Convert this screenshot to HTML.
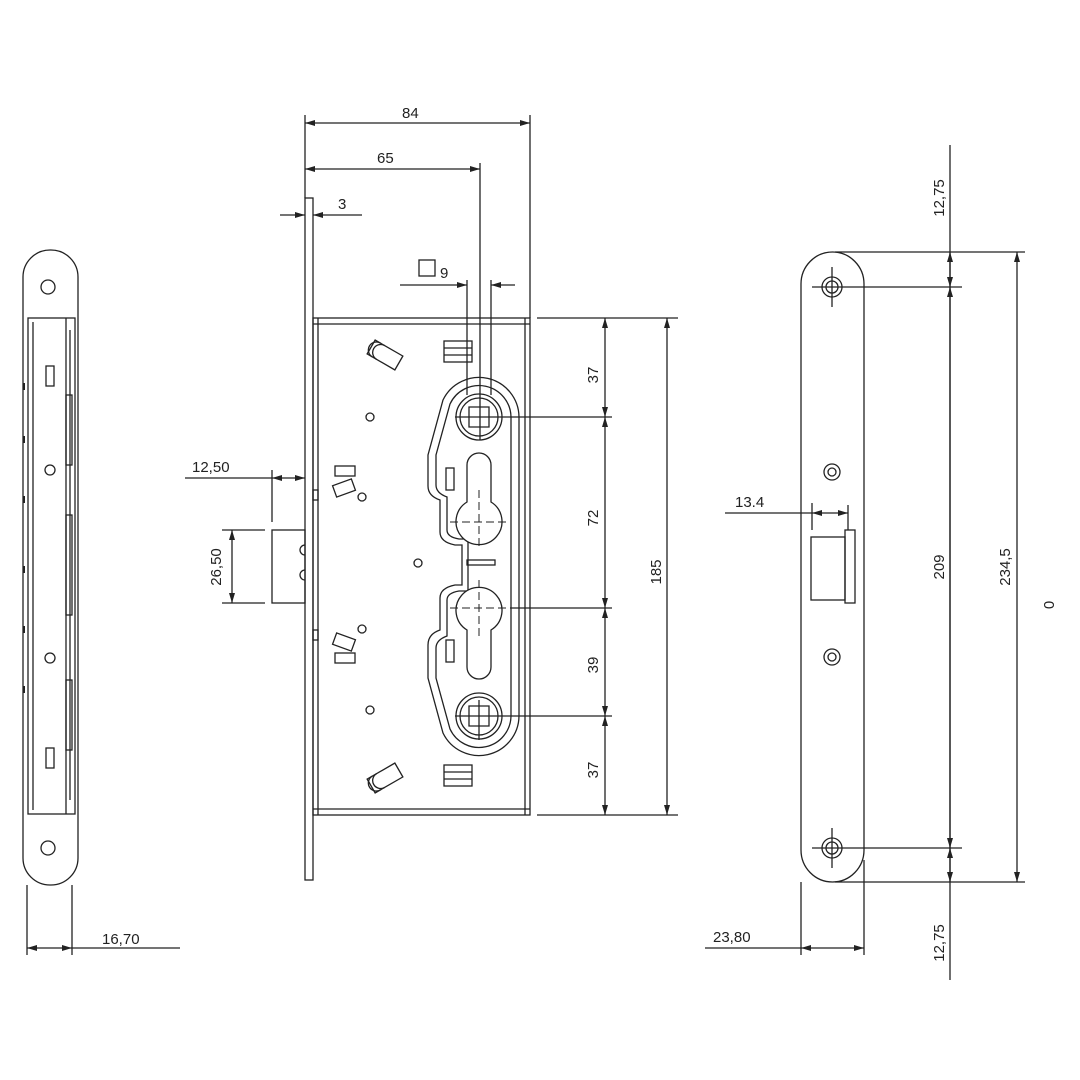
<!DOCTYPE html>
<html><head><style>body{margin:0;background:#fff}svg{display:block}text{font-family:"Liberation Sans",sans-serif;font-size:15px;fill:#222}</style></head><body>
<svg width="1080" height="1080" viewBox="0 0 1080 1080" xmlns="http://www.w3.org/2000/svg">
<defs>
<marker id="a" viewBox="0 0 10 6" refX="10" refY="3" markerWidth="10" markerHeight="6" orient="auto-start-reverse" markerUnits="userSpaceOnUse"><path d="M0,0L10,3L0,6z" fill="#222"/></marker>
</defs>
<g stroke="#222" fill="none" stroke-width="1.3">
<!-- LEFT VIEW -->
<rect x="23" y="250" width="55" height="635" rx="27"/>
<circle cx="48" cy="287" r="7"/><circle cx="48" cy="848" r="7"/>
<rect x="28" y="318" width="47" height="496"/>
<line x1="33" y1="322" x2="33" y2="810"/>
<line x1="66" y1="318" x2="66" y2="814"/>
<line x1="70" y1="330" x2="70" y2="800"/>
<rect x="46" y="366" width="8" height="20"/><rect x="46" y="748" width="8" height="20"/>
<circle cx="50" cy="470" r="5"/><circle cx="50" cy="658" r="5"/>
<rect x="66" y="395" width="6" height="70"/><rect x="66" y="515" width="6" height="100"/><rect x="66" y="680" width="6" height="70"/>
<g stroke-width="2"><line x1="24" y1="383" x2="24" y2="390"/><line x1="24" y1="436" x2="24" y2="443"/><line x1="24" y1="496" x2="24" y2="503"/><line x1="24" y1="566" x2="24" y2="573"/><line x1="24" y1="626" x2="24" y2="633"/><line x1="24" y1="686" x2="24" y2="693"/></g>
<line x1="27" y1="885" x2="27" y2="955"/><line x1="72" y1="885" x2="72" y2="955"/>
<line x1="27" y1="948" x2="72" y2="948" marker-start="url(#a)" marker-end="url(#a)"/>
<line x1="72" y1="948" x2="180" y2="948"/>

<!-- CENTRAL -->
<rect x="305" y="198" width="8" height="682"/>
<rect x="313" y="318" width="217" height="497"/>
<line x1="313" y1="324" x2="530" y2="324"/><line x1="313" y1="809" x2="530" y2="809"/>
<line x1="318" y1="318" x2="318" y2="815"/><line x1="525" y1="318" x2="525" y2="815"/>
<rect x="313" y="490" width="5" height="10"/><rect x="313" y="630" width="5" height="10"/>
<!-- latch -->
<rect x="272" y="530" width="33" height="73"/>
<path d="M305,545 a5,5 0 0 0 0,10 M305,570 a5,5 0 0 0 0,10"/>
<!-- bolts -->
<g transform="translate(385,355) rotate(30)"><rect x="-16" y="-8" width="32" height="16"/><path d="M-10,-8 a8,8 0 0 0 0,16 M-5,-8 a8,8 0 0 0 0,16"/></g>
<g transform="translate(385,778) rotate(-30)"><rect x="-16" y="-8" width="32" height="16"/><path d="M-10,-8 a8,8 0 0 0 0,16 M-5,-8 a8,8 0 0 0 0,16"/></g>
<rect x="335" y="466" width="20" height="10"/><g transform="translate(344,488) rotate(-20)"><rect x="-10" y="-6" width="20" height="12"/></g>
<rect x="335" y="653" width="20" height="10"/><g transform="translate(344,642) rotate(20)"><rect x="-10" y="-6" width="20" height="12"/></g>
<rect x="444" y="341" width="28" height="21"/><line x1="444" y1="348" x2="472" y2="348"/><line x1="444" y1="355" x2="472" y2="355"/>
<rect x="444" y="765" width="28" height="21"/><line x1="444" y1="772" x2="472" y2="772"/><line x1="444" y1="779" x2="472" y2="779"/>
<circle cx="370" cy="417" r="4"/><circle cx="362" cy="497" r="4"/><circle cx="418" cy="563" r="4"/><circle cx="362" cy="629" r="4"/><circle cx="370" cy="710" r="4"/>
<!-- follower outline -->
<path d="M443,400 A40,40 0 0 1 519,417 V716 A40,40 0 0 1 443,733 L428,678 V645 Q428,634 440,630 V598 Q440,588 455,585 H462 V545 H455 Q440,542 440,532 V500 Q428,496 428,486 V455 Z"/>
<path d="M450,404 A32,32 0 0 1 511,417 V716 A32,32 0 0 1 450,729 L436,678 V648 Q436,640 447,636 V600 Q447,593 459,591 H468 V539 H459 Q447,537 447,530 V497 Q436,493 436,485 V455 Z"/>
<circle cx="479" cy="417" r="23"/><circle cx="479" cy="417" r="19"/>
<path d="M469,407 h20 v20 h-20z"/>
<circle cx="479" cy="716" r="23"/><circle cx="479" cy="716" r="19"/>
<path d="M469,706 h20 v20 h-20z"/>
<path d="M467,465 a12,12 0 0 1 24,0 v37 a23,23 0 1 1 -24,0z" fill="#fff"/>
<path d="M467,667 a12,12 0 0 0 24,0 v-37 a23,23 0 1 0 -24,0z" fill="#fff"/>
<rect x="446" y="468" width="8" height="22"/><rect x="446" y="640" width="8" height="22"/>
<rect x="467" y="560" width="28" height="5"/>
<g stroke-width="1" stroke-dasharray="8,4">
<line x1="479" y1="490" x2="479" y2="550"/><line x1="450" y1="522" x2="510" y2="522"/>
<line x1="479" y1="580" x2="479" y2="640"/><line x1="450" y1="608" x2="510" y2="608"/>
</g>
<line x1="479" y1="700" x2="479" y2="740"/><line x1="455" y1="716" x2="503" y2="716"/>
<line x1="455" y1="417" x2="503" y2="417"/>
<!-- dims central -->
<line x1="305" y1="115" x2="305" y2="198"/><line x1="530" y1="115" x2="530" y2="318"/>
<line x1="305" y1="123" x2="530" y2="123" marker-start="url(#a)" marker-end="url(#a)"/>
<line x1="305" y1="169" x2="480" y2="169" marker-start="url(#a)" marker-end="url(#a)"/>
<line x1="480" y1="163" x2="480" y2="440"/>
<line x1="467" y1="280" x2="467" y2="395"/><line x1="491" y1="280" x2="491" y2="395"/>
<line x1="400" y1="285" x2="467" y2="285" marker-end="url(#a)"/><line x1="515" y1="285" x2="491" y2="285" marker-end="url(#a)"/>
<rect x="419" y="260" width="16" height="16"/>
<line x1="280" y1="215" x2="305" y2="215" marker-end="url(#a)"/><line x1="362" y1="215" x2="313" y2="215" marker-end="url(#a)"/>
<line x1="185" y1="478" x2="272" y2="478"/><line x1="272" y1="470" x2="272" y2="522"/>
<line x1="272" y1="478" x2="305" y2="478" marker-start="url(#a)" marker-end="url(#a)"/>
<line x1="222" y1="530" x2="265" y2="530"/><line x1="222" y1="603" x2="265" y2="603"/>
<line x1="232" y1="530" x2="232" y2="603" marker-start="url(#a)" marker-end="url(#a)"/>
<line x1="537" y1="318" x2="678" y2="318"/><line x1="537" y1="815" x2="678" y2="815"/>
<line x1="503" y1="417" x2="612" y2="417"/><line x1="510" y1="608" x2="612" y2="608"/><line x1="503" y1="716" x2="612" y2="716"/>
<line x1="605" y1="318" x2="605" y2="417" marker-start="url(#a)" marker-end="url(#a)"/>
<line x1="605" y1="417" x2="605" y2="608" marker-start="url(#a)" marker-end="url(#a)"/>
<line x1="605" y1="608" x2="605" y2="716" marker-start="url(#a)" marker-end="url(#a)"/>
<line x1="605" y1="716" x2="605" y2="815" marker-start="url(#a)" marker-end="url(#a)"/>
<line x1="667" y1="318" x2="667" y2="815" marker-start="url(#a)" marker-end="url(#a)"/>

<!-- RIGHT VIEW -->
<rect x="801" y="252" width="63" height="630" rx="32"/>
<circle cx="832" cy="287" r="10"/><circle cx="832" cy="287" r="6"/>
<line x1="812" y1="287" x2="852" y2="287"/><line x1="832" y1="267" x2="832" y2="307"/>
<circle cx="832" cy="848" r="10"/><circle cx="832" cy="848" r="6"/>
<line x1="812" y1="848" x2="852" y2="848"/><line x1="832" y1="828" x2="832" y2="868"/>
<circle cx="832" cy="472" r="8"/><circle cx="832" cy="472" r="4"/>
<circle cx="832" cy="657" r="8"/><circle cx="832" cy="657" r="4"/>
<rect x="811" y="537" width="34" height="63"/><rect x="845" y="530" width="10" height="73"/>
<line x1="812" y1="503" x2="812" y2="530"/>
<line x1="725" y1="513" x2="812" y2="513"/>
<line x1="812" y1="513" x2="848" y2="513" marker-start="url(#a)" marker-end="url(#a)"/>
<line x1="848" y1="505" x2="848" y2="530"/>
<line x1="801" y1="882" x2="801" y2="955"/><line x1="864" y1="860" x2="864" y2="955"/>
<line x1="705" y1="948" x2="801" y2="948"/>
<line x1="801" y1="948" x2="864" y2="948" marker-start="url(#a)" marker-end="url(#a)"/>
<line x1="835" y1="252" x2="1025" y2="252"/><line x1="852" y1="287" x2="962" y2="287"/>
<line x1="852" y1="848" x2="962" y2="848"/><line x1="835" y1="882" x2="1025" y2="882"/>
<line x1="950" y1="145" x2="950" y2="980"/>
<line x1="950" y1="252" x2="950" y2="287" marker-start="url(#a)" marker-end="url(#a)"/>
<line x1="950" y1="287" x2="950" y2="848" marker-start="url(#a)" marker-end="url(#a)"/>
<line x1="950" y1="848" x2="950" y2="882" marker-start="url(#a)" marker-end="url(#a)"/>
<line x1="1017" y1="252" x2="1017" y2="882" marker-start="url(#a)" marker-end="url(#a)"/>
</g>
<text x="102" y="944">16,70</text>
<text x="402" y="118">84</text>
<text x="377" y="163">65</text>
<text x="338" y="209">3</text>
<text x="440" y="278">9</text>
<text x="192" y="472">12,50</text>
<text x="735" y="507">13.4</text>
<text x="713" y="942">23,80</text>
<g text-anchor="middle">
<text transform="translate(598,375) rotate(-90)">37</text>
<text transform="translate(598,518) rotate(-90)">72</text>
<text transform="translate(598,665) rotate(-90)">39</text>
<text transform="translate(598,770) rotate(-90)">37</text>
<text transform="translate(661,572) rotate(-90)">185</text>
<text transform="translate(221,567) rotate(-90)">26,50</text>
<text transform="translate(944,198) rotate(-90)">12,75</text>
<text transform="translate(944,567) rotate(-90)">209</text>
<text transform="translate(1010,567) rotate(-90)">234,5</text>
<text transform="translate(1054,605) rotate(-90)">0</text>
<text transform="translate(944,943) rotate(-90)">12,75</text>
</g>
</svg>
</body></html>
